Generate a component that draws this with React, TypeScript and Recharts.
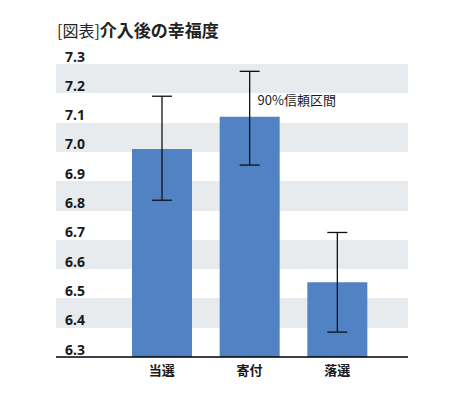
import { BarChart, Bar, XAxis, YAxis, CartesianGrid, ErrorBar, ReferenceDot } from 'recharts'

const categories = ['当選', '寄付', '落選']
const happiness = [7.01, 7.12, 6.555]
const ciLower = [6.835, 6.955, 6.385]
const ciUpper = [7.19, 7.275, 6.725]
const yTicks = [6.3, 6.4, 6.5, 6.6, 6.7, 6.8, 6.9, 7.0, 7.1, 7.2, 7.3]

const data = categories.map((name, i) => ({
  name,
  value: happiness[i],
  err: [happiness[i] - ciLower[i], ciUpper[i] - happiness[i]],
}))

const jpFont = '"Noto Sans CJK JP", "Noto Sans", sans-serif'

const YTick = (props: any) => {
  const { y, payload } = props
  return (
    <text x={65} y={y - 2.5} fontSize={14} fontWeight="bold" fill="#1a1a1a" fontFamily='"Noto Sans", sans-serif'>
      {Number(payload.value).toFixed(1)}
    </text>
  )
}

const XTick = (props: any) => {
  const { x, y, payload } = props
  return (
    <text x={x} y={y + 10} textAnchor="middle" fontSize={13} fontWeight="bold" fill="#1a1a1a" fontFamily={jpFont}>
      {payload.value}
    </text>
  )
}

const CiLabel = (props: any) => {
  const { viewBox } = props
  return (
    <text x={viewBox.x + 8} y={viewBox.y + 12} fontSize={13} fill="#1a1a1a" fontFamily={jpFont}>
      90%信頼区間
    </text>
  )
}

export default function App() {
  return (
    <div style={{ position: 'absolute', left: 0, top: 0 }}>
      <BarChart width={463} height={403} data={data} margin={{ top: 64, right: 55, bottom: 16, left: 55 }}>
        <text x={57} y={36.5} fill="#222" fontFamily={jpFont}>
          <tspan fontSize={16}>[図表]</tspan>
          <tspan fontSize={17} fontWeight="bold">介入後の幸福度</tspan>
        </text>
        <CartesianGrid vertical={false} stroke="none" horizontalFill={['#E8EBEE', '#ffffff']} />
        <XAxis
          dataKey="name"
          height={30}
          padding={{ left: 62, right: 27 }}
          axisLine={{ stroke: '#000', strokeWidth: 1.5 }}
          tickLine={false}
          tick={<XTick />}
        />
        <YAxis
          width={1}
          domain={[6.3, 7.3]}
          ticks={yTicks}
          interval={0}
          allowDataOverflow
          axisLine={false}
          tickLine={false}
          tick={<YTick />}
        />
        <Bar dataKey="value" fill="#5183C4" barSize={60} isAnimationActive={false}>
          <ErrorBar dataKey="err" width={10} stroke="#111" strokeWidth={1.3} isAnimationActive={false} />
        </Bar>
        <ReferenceDot x="寄付" y={7.2} r={0} fill="none" stroke="none" ifOverflow="visible" label={<CiLabel />} />
      </BarChart>
    </div>
  )
}
